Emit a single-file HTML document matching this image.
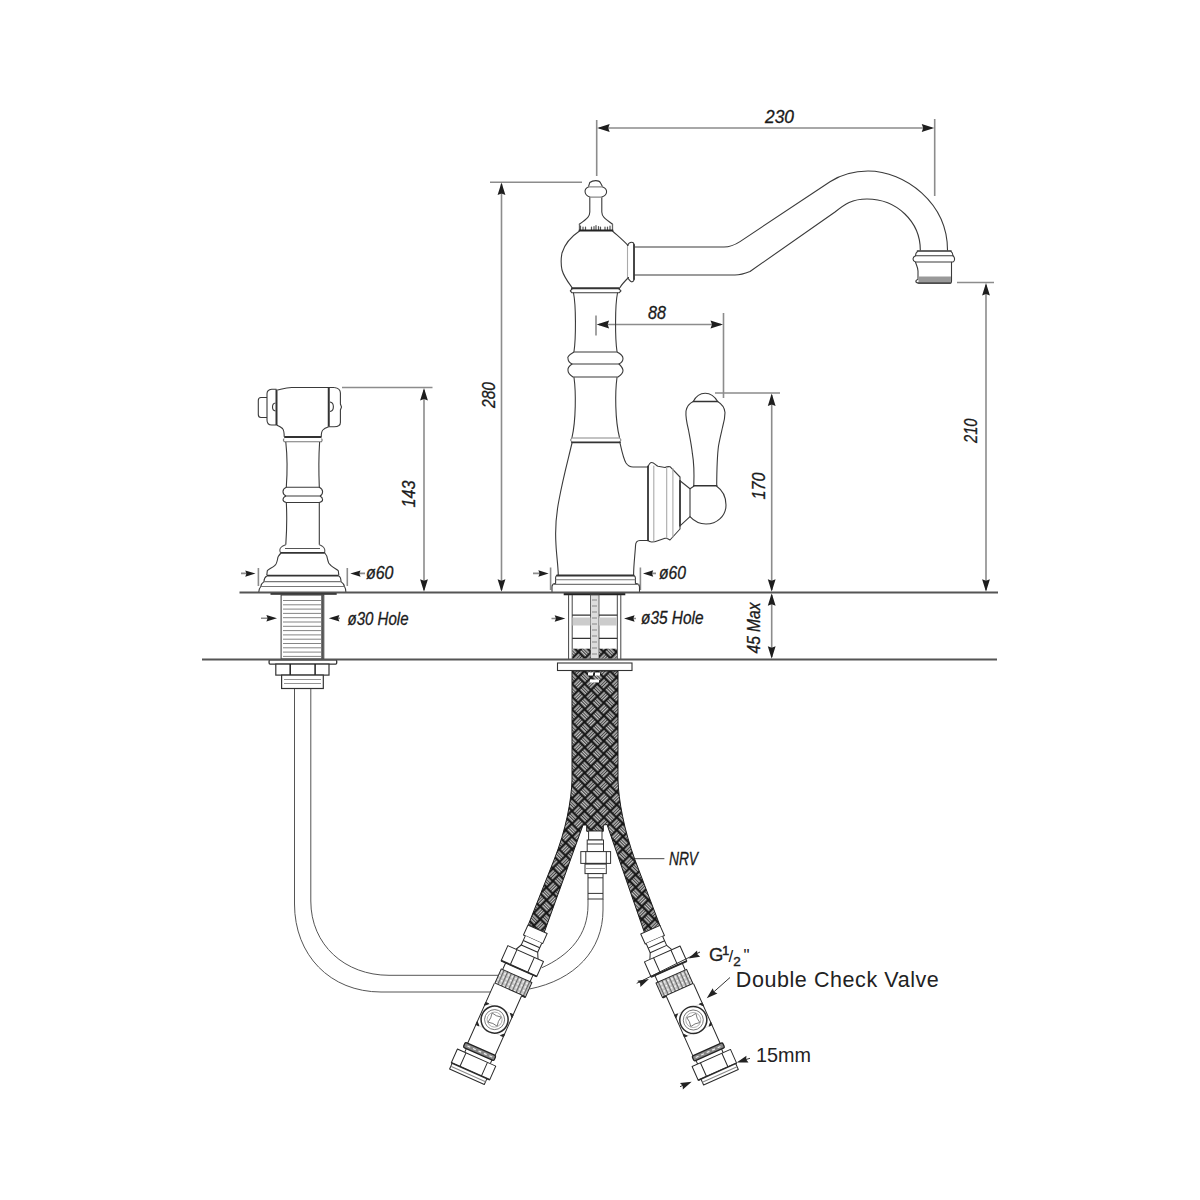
<!DOCTYPE html>
<html><head><meta charset="utf-8">
<style>
html,body{margin:0;padding:0;background:#fff;width:1200px;height:1200px;overflow:hidden}
svg{position:absolute;left:0;top:0;display:block}
.dt{font-family:"Liberation Sans",sans-serif;font-style:italic;fill:#1a1a1a}
.lb{font-family:"Liberation Sans",sans-serif;fill:#222}
</style></head><body>
<svg width="1200" height="1200" viewBox="0 0 1200 1200">
<defs>
<path id="arR" d="M0 0 L-12.5 -3.9 L-11 0 L-12.5 3.9 Z"/>

<pattern id="braid" width="18" height="18" patternUnits="userSpaceOnUse" patternTransform="translate(572,671) rotate(45)">
  <rect width="18" height="18" fill="#141414"/>
  <g fill="#c4c4c4"><rect x="0.8" y="1.4" width="7.4" height="1.5"/><rect x="0.8" y="3.6999999999999997" width="7.4" height="1.5"/><rect x="0.8" y="6.0" width="7.4" height="1.5"/><rect x="9.8" y="10.4" width="7.4" height="1.5"/><rect x="9.8" y="12.7" width="7.4" height="1.5"/><rect x="9.8" y="15.0" width="7.4" height="1.5"/><rect x="10.4" y="0.8" width="1.5" height="7.4"/><rect x="12.7" y="0.8" width="1.5" height="7.4"/><rect x="15.0" y="0.8" width="1.5" height="7.4"/><rect x="1.4" y="9.8" width="1.5" height="7.4"/><rect x="3.6999999999999997" y="9.8" width="1.5" height="7.4"/><rect x="6.0" y="9.8" width="1.5" height="7.4"/></g>
</pattern>
<pattern id="hatch" width="4" height="4" patternUnits="userSpaceOnUse">
  <rect width="4" height="4" fill="#c8c8c8"/>
  <rect width="1.2" height="4" fill="#666"/>
  <rect x="2" y="1" width="1.5" height="1.5" fill="#fff"/>
</pattern>
<g id="valve" stroke="#2a2a2a" stroke-width="1" fill="#fff" stroke-linejoin="round">
  <!-- ferrule + neck -->
  <path d="M-8 -100 H13 V-89 H-8 Z"/>
  <path d="M-6 -89 V-79 H12 V-89" />
  <path d="M-6 -84 H12" fill="none"/>
  <path d="M-6 -79 L-9 -73 M12 -79 L15 -73" fill="none"/>
  <!-- nut 1 -->
  <path d="M-18 -73 H21 V-56.5 H-18 Z"/>
  <path d="M-8 -73 V-56.5 M11 -73 V-56.5" fill="none"/>
  <path d="M-18 -56.5 H21" stroke-width="1.8" fill="none"/>
  <!-- neck -->
  <path d="M-13 -56.5 V-49 M17 -56.5 V-49" fill="none"/>
  <!-- threaded ring -->
  <rect x="-14.5" y="-49" width="33.5" height="16" fill="url(#hatch)"/>
  <path d="M-14.5 -33 H19" stroke-width="2" fill="none"/>
  <!-- tube -->
  <path d="M-15 -33 V34 H15 V-33" />
  <!-- ball valve -->
  <path d="M-15 -12 H15 M-15 12 H15" stroke="#ddd" fill="none"/>
  <circle cx="0" cy="0" r="13.5" stroke-width="1.5"/>
  <circle cx="0" cy="0" r="10" stroke="#666" stroke-width="0.8"/>
  <path d="M-5 -5 Q0 -3.5 5 -5 Q3.5 0 5 5 Q0 3.5 -5 5 Q-3.5 0 -5 -5 Z" stroke="#666" stroke-width="0.8"/>
  <circle cx="0" cy="0" r="7.5" stroke="#999" stroke-width="0.7" fill="none"/>
  <path d="M-15 -12 l3 0 l-3 3 Z M15 -12 l-3 0 l3 3 Z M-15 12 l3 0 l-3 -3 Z M15 12 l-3 0 l3 -3 Z" fill="#222"/>
  <!-- dark ring -->
  <rect x="-17.5" y="32.5" width="33.5" height="5.5" rx="1.5" fill="#888" stroke="#222" stroke-width="1.3"/>
  <path d="M-14 35.2 h3 m3 0 h3 m3 0 h3 m3 0 h3 m3 0 h3" stroke="#eee" stroke-width="1.2" fill="none"/>
  <path d="M-14 38 V42 M14 38 V42" fill="none"/>
  <!-- lower nut -->
  <path d="M-22 42 H20 V57 H-22 Z"/>
  <path d="M-12.6 42 V57 M10.9 42 V57" fill="none"/>
  <path d="M-21 57 V63.5 H17 V57" />
  <path d="M-22 57 H20" stroke-width="1.6" fill="none"/>
  <path d="M-21 60.5 H17" stroke="#888" fill="none"/>
</g>
</defs>
<!-- ============ DIMENSIONS ============ -->
<g id="dims" stroke="#8c8c8c" stroke-width="1.6" fill="none">
  <!-- 230 -->
  <path d="M596.7 120V176 M934.7 119V196 M599 128H932"/>
  <!-- 280 -->
  <path d="M490 182.3H582 M501.5 184V590"/>
  <!-- 88 -->
  <path d="M596 315.5V335.5 M723.5 313V398 M599 324.5H721"/>
  <!-- 170 -->
  <path d="M715 393H780 M771.7 395V590 M771.7 595V657"/>
  <!-- 210 -->
  <path d="M957 282.5H994 M986 285V590"/>
  <!-- 143 -->
  <path d="M342 387.5H432.5 M424 390V590"/>
  <!-- o60 spray -->
  <path d="M258.4 568V586 M347.3 568V586 M241 573.4H250 M355 573.4H365"/>
  <!-- o30 -->
  <path d="M261 618.3H270 M334 618.3H340"/>
  <!-- o60 main -->
  <path d="M550.6 567.5V590 M640.4 567.5V590 M533 573.4H544 M648 573.4H656"/>
  <!-- o35 -->
  <path d="M551.5 618.5H560 M629 618.5H636"/>
</g>
<g id="arrows" fill="#1e1e1e">
  <use href="#arR" transform="translate(597.2,128) rotate(180)"/>
  <use href="#arR" transform="translate(934.2,128)"/>
  <use href="#arR" transform="translate(501.5,182.6) rotate(-90)"/>
  <use href="#arR" transform="translate(501.5,591.8) rotate(90)"/>
  <use href="#arR" transform="translate(596.6,324.5) rotate(180)"/>
  <use href="#arR" transform="translate(723,324.5)"/>
  <use href="#arR" transform="translate(771.7,393.4) rotate(-90)"/>
  <use href="#arR" transform="translate(771.7,591.8) rotate(90)"/>
  <use href="#arR" transform="translate(771.7,593.2) rotate(-90)"/>
  <use href="#arR" transform="translate(771.7,658.8) rotate(90)"/>
  <use href="#arR" transform="translate(986,283) rotate(-90)"/>
  <use href="#arR" transform="translate(986,591.8) rotate(90)"/>
  <use href="#arR" transform="translate(424,388) rotate(-90)"/>
  <use href="#arR" transform="translate(424,591.8) rotate(90)"/>
  <use href="#arR" transform="translate(255.5,573.6) scale(0.82)"/>
  <use href="#arR" transform="translate(350.3,573.6) rotate(180) scale(0.82)"/>
  <use href="#arR" transform="translate(277,618.3) scale(0.85)"/>
  <use href="#arR" transform="translate(328.8,618.3) rotate(180) scale(0.85)"/>
  <use href="#arR" transform="translate(548.6,573.5) scale(0.82)"/>
  <use href="#arR" transform="translate(643,573.5) rotate(180) scale(0.82)"/>
  <use href="#arR" transform="translate(565.3,618.5) scale(0.85)"/>
  <use href="#arR" transform="translate(624,618.5) rotate(180) scale(0.85)"/>
</g>
<g id="dimtext" class="dt" font-size="17.5" stroke="#1a1a1a" stroke-width="0.3">
  <text x="765" y="123" textLength="29" lengthAdjust="spacingAndGlyphs">230</text>
  <text x="648" y="319" textLength="18" lengthAdjust="spacingAndGlyphs">88</text>
  <text transform="translate(494.5,408) rotate(-90)" textLength="26" lengthAdjust="spacingAndGlyphs">280</text>
  <text transform="translate(764.5,499.5) rotate(-90)" textLength="27" lengthAdjust="spacingAndGlyphs">170</text>
  <text transform="translate(977,443) rotate(-90)" textLength="24.5" lengthAdjust="spacingAndGlyphs">210</text>
  <text transform="translate(415,507.5) rotate(-90)" textLength="27" lengthAdjust="spacingAndGlyphs">143</text>
  <text transform="translate(759.5,653.5) rotate(-90)" textLength="51" lengthAdjust="spacingAndGlyphs">45 Max</text>
  <text x="366" y="579" textLength="27.5" lengthAdjust="spacingAndGlyphs">ø60</text>
  <text x="659" y="579" textLength="27" lengthAdjust="spacingAndGlyphs">ø60</text>
  <text x="347.5" y="624.5" textLength="61" lengthAdjust="spacingAndGlyphs">ø30 Hole</text>
  <text x="641" y="623.5" textLength="62.5" lengthAdjust="spacingAndGlyphs">ø35 Hole</text>
  <text x="669" y="865.3" font-size="19" textLength="29" lengthAdjust="spacingAndGlyphs">NRV</text>
</g>


<!-- ============ SIDE SPRAY ============ -->
<g id="spray" stroke="#3a3a3a" stroke-width="1.1" fill="none" stroke-linejoin="round">
  <!-- head -->
  <path d="M277.5 390 C282 389 286 387.5 291.7 387.5 H334.2"/>
  <path d="M276.5 389.2 H271.7 C269 389.5 267 391.5 267 393.8 V420 C267 423 269 425 271.7 425 H276.5"/>
  <path d="M276.5 389.5 V425" stroke="#333" stroke-width="2"/>
  <path d="M267 397.5 H261 C259 397.5 258.3 399 258.3 400.5 V414.5 C258.3 416.5 259 417.5 261 417.5 H267"/>
  <path d="M275.5 403 C271.5 403.5 271.5 410.5 275.5 411"/>
  <path d="M328.75 387.5 V426.7" stroke="#333" stroke-width="2"/>
  <path d="M334.2 387.5 C338 388 340.4 390 340.4 393 V404 L341.5 407 L340.4 410 V422.5 C340.4 425 338 426.7 334.2 426.7 H328.75"/>
  <path d="M330 402 C334.5 402.5 334.5 411 330 411.5"/>
  <path d="M276.5 425 C279 426 281 427 282.5 428.5 C283.8 430 284.2 432 284.2 436.7 M328.75 426.7 C326 427.5 324 428.5 322.8 430 C321.5 431.5 321.25 433.5 321.25 436.7"/>
  <path d="M284.2 437.1 H321.5" stroke="#333" stroke-width="2"/>
  <path d="M284.2 438.5 L283.3 440 L284.2 441.7 H321.5 L322.2 440 L321.5 438.5" stroke="#777"/>
  <!-- column -->
  <path d="M285.8 442 C287.2 455 287.2 475 286.3 487.3 M319.6 442 C318.8 455 318.8 475 319.3 487.3"/>
  <path d="M286.3 487.3 H319.3 M286.3 487.3 C283.5 488.5 283 490 283 491.7 C283 493.5 284 495 286 496 H320 C322 495 322.6 493.5 322.6 491.7 C322.6 490 321.5 488.5 319.3 487.3"/>
  <path d="M286 496 C283.5 497 283 498.5 283 499.8 C283 501 284 502 286.3 502.5 H319.3 C322 502 322.6 501 322.6 499.8 C322.6 498.5 322 497 320 496"/>
  <path d="M286.3 502.5 C287 515 286.8 530 285.8 544.8 M319.3 502.5 C319.3 515 319.3 530 319.3 544.8"/>
  <path d="M285.8 544.8 C282 546 280 547.5 279.8 550 C279.8 551.5 280.3 552.5 281 553 M319.3 544.8 C322.5 546 324.5 547.5 324.8 550 C324.8 551.5 324.6 552.5 324.6 553 M285 548.5 H320" stroke="#555"/>
  <path d="M280.9 552.9 H324.8" stroke="#333" stroke-width="1.8"/>
  <!-- bell -->
  <path d="M281 553 C279 555 277.6 557 277.6 559 C277 562 276 564.5 275 565.3 C272 568 268 569.5 267.3 570.8 L266.8 575.1"/>
  <path d="M324.8 553 C326.5 555 327.5 557 327.5 559 C328 562 329.5 564.5 330.7 565.3 C333.5 568 337.5 569.5 338.3 570.8 L338.8 575.1"/>
  <path d="M266.8 575.6 H338.8" stroke="#333" stroke-width="1.8"/>
  <path d="M266.8 576 C265 577 264 579 264 581.6 C262 583 261 584.5 260.8 586.5 C259.5 588 258.7 590 258.7 592.5 M338.8 576 C340.5 577 341 579 341 581.6 C343 583 344 584.5 344.5 586.5 C345.5 588 345.9 590 345.9 592.5"/>
  <path d="M264 581.6 H341 M260.8 586.5 H344.5" stroke="#777"/>
</g>
<!-- ============ MAIN FAUCET ============ -->
<g id="main" stroke="#3a3a3a" stroke-width="1.1" fill="none" stroke-linejoin="round" stroke-linecap="round">
  <!-- finial -->
  <path d="M579.3 224.2 C588 218 589.8 216 589.8 212 L589.8 197.1 C584 195 583.5 189 588.4 186.9 L589.8 182.5 C593 180 599 180 600.3 182.5 L602.7 186.9 C608 189 608 195 601.8 197.1 L601.8 212 C601.8 216 604 218 612.6 224.2"/>
  <path d="M588.4 186.9H602.7 M589.8 197.1H601.8" stroke="#888"/>
  <path d="M579.5 224.5 V230.5 M612.5 224.5 V230.5" stroke="#666" stroke-width="1.3"/>
  <path d="M580.5 226V230 M583 227V230 M585.5 227V230 M591.5 227V230 M594 226.5V230 M596 225.5V230 M598.5 226.5V230 M600.5 227V230 M605 227V230 M607.5 227V230 M610 226V230" stroke="#555" stroke-width="1.2"/>
  <path d="M579.5 230.5H612.5" stroke="#222" stroke-width="1.8"/>
  <!-- ball -->
  <path d="M579.5 231 C572 236 565 243 562 253 C561 258 561 265 562 270 C564 277 568 282 572 287.5"/>
  <path d="M612.5 231 C618 236 623 240 628 245.5 M628.5 277.5 C625 281 622 284 620 287.5"/>
  <!-- flange -->
  <path d="M627.5 245.5 V278" stroke="#aaa"/>
  <path d="M627.5 245.5 C628.5 243 630 242.3 631.5 242.3 C633 242.3 634 243 634 245 M627.5 278 C629 279 630 281.5 631.5 281.8 C633 282 634 281 634 279"/>
  <path d="M634 245 V279" stroke="#333" stroke-width="1.8"/>
  <!-- top band -->
  <path d="M572 288.3H619" stroke="#333" stroke-width="2"/>
  <path d="M572 289 L570.3 290.8 L572 292.8 H619 L621 290.8 L619 289"/>
  <!-- upper column -->
  <path d="M573.5 293 C576 305 576 338 574 351.5 M617.5 293 C615 305 615 338 617 351.5"/>
  <!-- rings -->
  <path d="M574 352H617 M574 352 C569 355 567 357 568 358.5 C568 361 570 363 572 364 H619 C621 363 623 361 623 358.5 C623 356 621 354 617 352"/>
  <path d="M572 364 C569 366 567.5 368 568 370.5 C568 373 570 375 573 377 H618 C621 375 623 373 623 370.5 C623 368 621 366 619 364"/>
  <!-- lower column -->
  <path d="M574 377.5 C576 392 576 420 572 437.5 M617 377.5 C615 392 615 420 619.5 437.5"/>
  <!-- lower band -->
  <path d="M572 437.8 L570.5 440 L572 442.3 M619.5 437.8 L621 440 L619.5 442.3 M572 438H619.5" stroke="#888"/>
  <path d="M572 442.3H620" stroke="#333" stroke-width="1.8"/>
  <!-- bell -->
  <path d="M572 443 C568 460 563 478 559 500 C556 515 555 530 556 545 C556.5 555 558 565 558.3 575"/>
  <path d="M620 443 C622 452 623.5 459 626 463 C628 466 630 467 633 467 H648"/>
  <path d="M648 540.5 H640 C637 540.5 635.5 543 635.5 546 C635 555 633.6 565 633.6 575"/>
  <!-- base -->
  <path d="M557 575.5H633.6" stroke="#333" stroke-width="1.8"/>
  <path d="M557 575.5 C555.5 576 555.6 577 555.6 578 V583.4 C553 583.8 552 585 552 587 V592.5 M633.6 575.5 C635.2 576 635.4 577 635.4 578 V583.4 C638 583.8 639.5 585 639.5 587 V592.5"/>
  <path d="M556 579.8H635 M553 584.4H639" stroke="#777"/>

  <!-- spout -->
  <path d="M634.5 247 H724 C730 247 734 245.5 740 241.6 L830 181.7 C842 174 853 171 868 171 C905 171 947.5 203 947.5 250"/>
  <path d="M634.5 275 H735 C741 275 745 273.5 750 271.5 L835 212 C845 204 852 199 867 199 C897 199 920.3 222 920.3 250"/>
  <!-- aerator -->
  <path d="M917.5 251 H951" stroke="#333" stroke-width="1.6"/>
  <path d="M917.5 251.5 C916 252.5 915.5 254 915.5 255.7 C913.5 256.5 913 258 913 259 C913 260.5 914 261.5 915.5 262 H953 C954.5 261.5 954.6 260 954.6 259 C954.6 257.5 954 256.5 953 255.7 C952.8 253.5 952 252 951 251.5"/>
  <path d="M915.5 255.7H953"/>
  <path d="M915.5 262.3 C916.5 265 918 268 918 271 V279.5 C916 280 915.5 281 916 282 C917 283 918 283.2 919 283.2 H950 C951 283.2 951.5 282.5 951.5 281.5 V262.3"/>
  <rect x="918.5" y="276.5" width="32.5" height="6" fill="#999" stroke="none"/>
  <path d="M918.5 283H950.5" stroke="#444" stroke-width="1.4"/>
  <!-- handle cartridge -->
  <path d="M648 466.3 V540.4" stroke="#333" stroke-width="1.8"/>
  <path d="M648 467 C649 464 650 462.5 651.7 462.5 C654 462.5 656 465.5 658 466.3 L665 467.5 C667 466.5 668 466.5 670 466.7 L680 477 V529 L670 540 C668 538.5 667 538 665 538.3 L657 541 C655 542 653 542 651.7 542 C650 542 648.5 541 648 540.4"/>
  <path d="M653.8 466V541 M666.7 467.5V538 M672.9 468.5V537" stroke="#aaa"/>
  <path d="M680 480.8V525.8" stroke="#333" stroke-width="1.6"/>
  <path d="M680 480.8 L690 488.7 V516.7 L680 525.8"/>
  <!-- lever -->
  <path d="M690 488.7 L693.8 486.3 M716.7 486.3 C722 490 726 497 726 505 C726 516 717 524 706 524 C699 524 693 520 690 516.7"/>
  <path d="M693.8 485.8 H716.7" stroke="#333" stroke-width="1.6"/>
  <path d="M693.8 485.8 C694.2 475 693.5 460 692.4 453.7 C691.5 445 690 438 688.5 430 C687 424 685.5 417 686 411 C687 406 690 403 693.3 401.5 C696 396 700 393.2 705.2 393.2 C710 393.2 714.5 396 717.6 401.5 C721 403.5 724.5 407 725 412.5 C725 418 723.5 424 722.6 427 C721 434 719.5 440 718.5 446 C717.3 455 716.8 470 716.7 485.8"/>
  <path d="M693.3 401.5 H717.6" stroke="#333" stroke-width="1.6"/>
</g>

<!-- ============ BELOW COUNTER ============ -->
<g id="below" stroke="#2e2e2e" stroke-width="1" fill="none">
  <!-- side spray hose -->
  <path d="M294.5 688.5 V904 C294.5 955 330 992 381 992 H492" stroke="#555"/>
  <path d="M310.8 688.5 V901 C310.8 945 345 975.3 389 975.3 H498" stroke="#555"/>
  <!-- NRV hose -->
  <path d="M588 899 V905 C588 935 570 955 541.7 967.8" stroke="#555"/>
  <path d="M603 899 V910 C603 950 575 980 529.5 989" stroke="#555"/>
  <!-- braided hoses -->
  <path d="M572 671 H618 V780 C618.5 800 624 830 635 860 L660.1 926 L644.6 933 L607 824.5 L603.3 825 V831.3 H586.7 V825 L583 825 L544 933 L528.4 924.6 L554 860 C566 830 571.5 800 572 780 Z" fill="url(#braid)" stroke="#1a1a1a"/>
  <!-- NRV fitting -->
  <g fill="#fff" stroke="#333">
    <rect x="588.6" y="831" width="13.4" height="9"/>
    <rect x="587.2" y="840" width="16.3" height="11.6"/>
    <path d="M587.2 844 H603.5" fill="none"/>
    <rect x="580.8" y="851.6" width="29.8" height="11.8"/>
    <path d="M585.8 851.6 V863.4 M606.3 851.6 V863.4" fill="none"/>
    <rect x="585" y="863.4" width="21.3" height="10.2"/>
    <path d="M585 863.8 H606.3" stroke-width="1.6" fill="none"/>
    <path d="M586 868.5 H605" stroke="#999" fill="none"/>
    <rect x="588" y="873.6" width="15" height="25.4"/>
    <path d="M588 877.8 H603 M588 893.4 H603" fill="none"/>
  </g>
  <path d="M634.6 858.7 H664.4" stroke="#444"/>
  <!-- side spray shank -->
  <path d="M270.5 593.5 H336.7" stroke="#222" stroke-width="2.6"/>
  <rect x="281.1" y="595" width="42.7" height="64" fill="#fff" stroke="#333"/>
  <path d="M322.3 595 V659" stroke="#555" stroke-width="2.2"/>
  <path d="M283 600.5H321 M283 604.8H321 M283 609.1H321 M283 613.4H321 M283 617.7H321 M283 622H321 M283 626.3H321 M283 630.6H321 M283 634.9H321 M283 639.2H321 M283 643.5H321 M283 647.8H321 M283 652.1H321 M283 656.4H321" stroke="#777" stroke-width="0.9"/>
  <rect x="269.1" y="659.8" width="67.6" height="4.3" rx="1" fill="#fff" stroke="#333" stroke-width="1.3"/>
  <rect x="275.8" y="664.1" width="53.2" height="11" fill="#fff" stroke="#333" stroke-width="1.2"/>
  <path d="M290.2 664.1 V675.1 M315.1 664.1 V675.1" stroke="#222" stroke-width="1.5"/>
  <rect x="281.6" y="675.1" width="41.7" height="13.4" fill="#fff" stroke="#333" stroke-width="1.2"/>
  <path d="M284 679.5H321 M284 683.5H321" stroke="#888" stroke-width="0.9"/>
  <!-- main shank -->
  <path d="M563.7 594 H625.3" stroke="#222" stroke-width="2.4"/>
  <path d="M568.6 595 V659 M620.8 595 V659 M572.2 595 V659 M617.3 595 V659" stroke="#444"/>
  <rect x="590.5" y="595" width="8.5" height="64" fill="#ddd" stroke="#555" stroke-width="0.9"/>
  <path d="M592 600h5 M592 606h5 M592 612h5 M592 618h5 M592 624h5 M592 630h5 M592 636h5 M592 642h5 M592 648h5 M592 654h5" stroke="#888" stroke-width="1.2"/>
  <path d="M572.2 615.2 H590.5 M599 615.2 H617.3 M572.2 638.4 H590.5 M599 638.4 H617.3" stroke="#333" stroke-width="1.3"/>
  <rect x="572.5" y="617.5" width="18" height="8" fill="#ccc" stroke="none"/>
  <rect x="599" y="617.5" width="18" height="8" fill="#ccc" stroke="none"/>
  <rect x="572.5" y="648.7" width="18" height="10" fill="url(#braid)" stroke="none"/>
  <rect x="599" y="648.7" width="18" height="10" fill="url(#braid)" stroke="none"/>
  <rect x="557.5" y="663" width="74.5" height="7.5" fill="#fff" stroke="#333" stroke-width="1.1"/>
  <path d="M588 674 h5 m2 0 h5 M590 681 h9" stroke="#fff" stroke-width="3"/>
</g>
<!-- valves -->
<use href="#valve" transform="translate(494.6,1019.6) rotate(24)"/>
<use href="#valve" transform="translate(693.3,1020) rotate(-24) scale(-1,1)"/>
<!-- labels -->
<g stroke="#333" stroke-width="1" fill="none">
  <path d="M730 977.5 L712 993.5 M750 1058.3 L741 1061 M680 1086.7 L687 1083.5 M636.7 983.3 L700 952"/>
</g>
<g fill="#222">
  <use href="#arR" transform="translate(706.7,998.3) rotate(138) scale(0.9)"/>
  <use href="#arR" transform="translate(736.7,1062.5) rotate(163) scale(0.9)"/>
  <use href="#arR" transform="translate(691.7,1081.7) rotate(-24) scale(0.9)"/>
  <use href="#arR" transform="translate(649,979) rotate(-26) scale(0.9)"/>
  <use href="#arR" transform="translate(688.5,958.5) rotate(154) scale(0.9)"/>
</g>
<g class="lb">
  <text x="709" y="961.4" font-size="18.5" stroke="#222" stroke-width="0.3">G</text>
  <text x="722.3" y="955.2" font-size="12.5" stroke="#222" stroke-width="0.5">1</text>
  <text x="728.5" y="962" font-size="17">/</text>
  <text x="733.2" y="966" font-size="13.5" stroke="#222" stroke-width="0.4">2</text>
  <text x="743.5" y="961" font-size="17">"</text>
  <text x="735.8" y="986.8" font-size="21.5" textLength="203" lengthAdjust="spacing">Double Check Valve</text>
  <text x="755.9" y="1062.2" font-size="21" textLength="55" lengthAdjust="spacingAndGlyphs">15mm</text>
</g>
<!-- ============ COUNTER ============ -->
<g stroke="#555" stroke-width="2" fill="none">
  <path d="M239.5 592.5H998 M202 659.5H997"/>
</g>
</svg>
</body></html>
